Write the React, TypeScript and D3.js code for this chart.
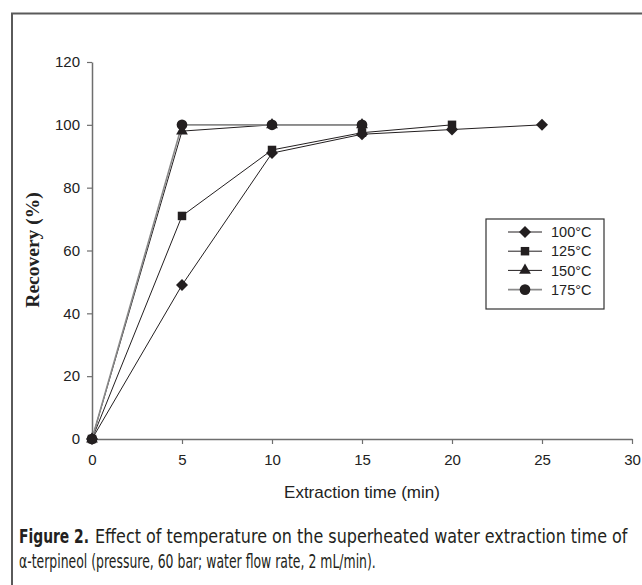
import React, { useRef, useEffect } from 'react';
import * as d3 from 'd3';

const times = [0, 5, 10, 15, 20, 25];
const series = [
  { name: '100°C', symbol: 'diamond', values: [0, 49, 91, 97, 98.5, 100] },
  { name: '125°C', symbol: 'square', values: [0, 71, 92, 97.5, 100] },
  { name: '150°C', symbol: 'triangle', values: [0, 98, 100, 100] },
  { name: '175°C', symbol: 'circle', values: [0, 100, 100, 100] },
];
const xTicks = [0, 5, 10, 15, 20, 25, 30];
const yTicks = [0, 20, 40, 60, 80, 100, 120];

const W = 642;
const H = 585;

const symbolFor = (s: string) => {
  if (s === 'diamond') return d3.symbol(d3.symbolSquare, 72);
  if (s === 'square') return d3.symbol(d3.symbolSquare, 72);
  if (s === 'triangle') return d3.symbol(d3.symbolTriangle, 60);
  return d3.symbol(d3.symbolCircle, 90);
};
const rot = (s: string) => (s === 'diamond' ? ' rotate(45)' : '');

const App: React.FC = () => {
  const svgRef = useRef<SVGSVGElement | null>(null);

  useEffect(() => {
    if (!svgRef.current) return;
    const svg = d3.select(svgRef.current);
    svg.selectAll('*').remove();

    svg.append('rect').attr('width', W).attr('height', H).attr('fill', '#fff');

    // frame
    svg
      .append('path')
      .attr('d', `M12,${H + 5} L12,13.5 L${W + 5},13.5`)
      .attr('fill', 'none')
      .attr('stroke', '#5a5a5a')
      .attr('stroke-width', 2);

    const x = d3.scaleLinear().domain([0, 30]).range([92, 632]);
    const y = d3.scaleLinear().domain([0, 120]).range([439, 62]);

    const axisColor = '#6e6e6e';
    const xAxisG = svg.append('g').attr('transform', `translate(0, ${y(0)})`);
    xAxisG.call(d3.axisBottom(x).tickValues(xTicks).tickSize(5).tickPadding(10).tickSizeOuter(0));
    const yAxisG = svg.append('g').attr('transform', `translate(${x(0)}, 0)`);
    yAxisG.call(d3.axisLeft(y).tickValues(yTicks).tickSize(5).tickPadding(7).tickSizeOuter(0));
    [xAxisG, yAxisG].forEach((g) => {
      g.attr('font-size', null).attr('font-family', null);
      g.select('.domain').attr('stroke', axisColor).attr('stroke-width', 1.5);
      g.selectAll('.tick line').attr('stroke', axisColor).attr('stroke-width', 1.2);
      g.selectAll('.tick text')
        .attr('fill', '#222')
        .style('font-family', 'Liberation Sans, Arial, sans-serif')
        .style('font-size', '15px');
    });

    // lines
    const line = d3
      .line<number>()
      .x((_, i) => x(times[i]))
      .y((d) => y(d));

    series.forEach((s) => {
      svg
        .append('path')
        .datum(s.values)
        .attr('d', line)
        .attr('fill', 'none')
        .attr('stroke', s.symbol === 'circle' ? '#8a8a8a' : '#231f20')
        .attr('stroke-width', s.symbol === 'circle' ? 1.6 : 1);
    });

    series.forEach((s) => {
      svg
        .append('g')
        .selectAll('path')
        .data(s.values)
        .enter()
        .append('path')
        .attr('transform', (d, i) => `translate(${x(times[i])},${y(d)})${rot(s.symbol)}`)
        .attr('d', symbolFor(s.symbol)()!)
        .attr('fill', '#231f20');
    });

    // legend
    const lg = svg.append('g');
    lg.append('rect')
      .attr('x', 486)
      .attr('y', 219)
      .attr('width', 118)
      .attr('height', 90)
      .attr('fill', '#fff')
      .attr('stroke', '#333')
      .attr('stroke-width', 1.2);
    series.forEach((s, i) => {
      const ry = 232 + i * 19.2;
      lg.append('line')
        .attr('x1', 508)
        .attr('x2', 542)
        .attr('y1', ry)
        .attr('y2', ry)
        .attr('stroke', s.symbol === 'circle' ? '#8a8a8a' : '#231f20')
        .attr('stroke-width', s.symbol === 'circle' ? 1.6 : 1);
      lg.append('path')
        .attr('transform', `translate(525,${ry})${rot(s.symbol)}`)
        .attr('d', symbolFor(s.symbol)()!)
        .attr('fill', '#231f20');
      lg.append('text')
        .attr('x', 551)
        .attr('y', ry)
        .attr('dy', '0.36em')
        .attr('fill', '#222')
        .style('font-family', 'Liberation Sans, Arial, sans-serif')
        .style('font-size', '14.5px')
        .text(s.name);
    });

    // axis titles
    svg
      .append('text')
      .attr('x', 362)
      .attr('y', 498)
      .attr('text-anchor', 'middle')
      .attr('fill', '#222')
      .style('font-family', 'Liberation Sans, Arial, sans-serif')
      .style('font-size', '17px')
      .text('Extraction time (min)');

    svg
      .append('text')
      .attr('transform', 'translate(39,250) rotate(-90)')
      .attr('text-anchor', 'middle')
      .attr('fill', '#222')
      .style('font-family', 'Liberation Serif, Times New Roman, serif')
      .style('font-size', '19.5px')
      .style('font-weight', 'bold')
      .text('Recovery (%)');

    // caption: condensed text, squeezed horizontally to the measured widths
    const capFont = 'DejaVu Sans Condensed, Liberation Sans Narrow, sans-serif';
    const capLine = (tx: number, ty: number, width: number, text: string, bold = false) => {
      const t = svg
        .append('text')
        .attr('x', 0)
        .attr('y', 0)
        .attr('fill', '#231f20')
        .style('font-family', capFont)
        .style('font-size', '20px')
        .style('font-weight', bold ? 'bold' : 'normal')
        .text(text);
      const natural = (t.node() as SVGTextElement).getComputedTextLength() || width;
      t.attr('transform', `translate(${tx},${ty}) scale(${width / natural},1)`);
    };
    capLine(19, 543, 70, 'Figure 2.', true);
    capLine(95, 543, 533, 'Effect of temperature on the superheated water extraction time of');
    capLine(19, 568, 357, 'α-terpineol (pressure, 60 bar; water flow rate, 2 mL/min).');
  }, []);

  return (
    <svg
      ref={svgRef}
      width={W}
      height={H}
      style={{ position: 'absolute', left: 0, top: 0, display: 'block' }}
    />
  );
};

export default App;
